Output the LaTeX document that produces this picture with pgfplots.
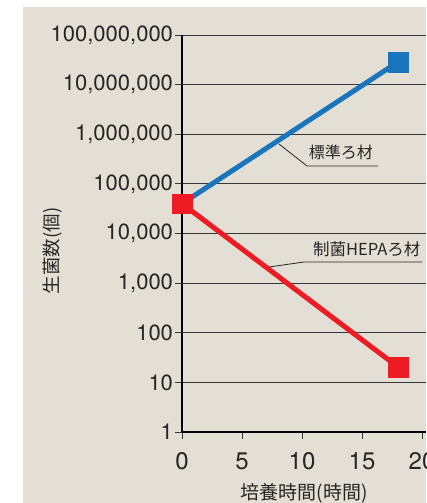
\documentclass[border=0pt]{standalone}
\usepackage{fontspec}
\usepackage{pgfplots}
\pgfplotsset{compat=1.18}
\setmainfont{TeX Gyre Heros}
\newfontfamily\jp{Noto Sans CJK JP}
\definecolor{bg}{RGB}{228,223,212}
\definecolor{blueL}{RGB}{27,117,188}
\definecolor{redL}{RGB}{237,28,36}
\definecolor{gridc}{RGB}{55,55,55}
\begin{document}
\begin{tikzpicture}[x=1pt,y=1pt]
\useasboundingbox (0,0) rectangle (426,503);
\clip (0,0) rectangle (426,503);
\fill[white] (0,0) rectangle (426,503);
\fill[bg] (23,0) rectangle (426,496);
\begin{axis}[
  at={(182pt,71pt)}, anchor=south west,
  scale only axis, width=244pt, height=397pt,
  xmin=0, xmax=20.333, ymode=log, ymin=1, ymax=1e8,
  clip=false,
  axis x line*=bottom, axis y line*=left,
  axis line style={black, line width=1.1pt},
  xtick={0,5,10,15,20},
  xticklabels={0,5,10,15,20},
  ytick={1,10,100,1000,10000,100000,1000000,10000000,100000000},
  yticklabels={1,10,100,{1,000},{10,000},{100,000},{1,000,000},{10,000,000},{100,000,000}},
  yminorticks=false, xminorticks=false,
  ymajorgrids,
  major grid style={gridc, line width=0.9pt},
  tick align=outside,
  major tick length=7pt,
  tick style={gridc, line width=0.9pt},
  /pgf/number format/assume math mode=true,
  yticklabel style={font=\fontsize{22}{22}\selectfont, text=black!85, xshift=1.5pt},
  xticklabel style={font=\fontsize{24}{24}\selectfont, text=black!85, yshift=-10pt},
  xlabel={\jp 培養時間(時間)},
  ylabel={\jp 生菌数(個)},
  every axis x label/.style={at={(axis description cs:0.5,-0.154)}, anchor=center, font=\fontsize{19}{19}\selectfont, text=black!85},
  every axis y label/.style={at={(axis description cs:-0.529,0.456)}, anchor=center, rotate=90, font=\fontsize{18.5}{18.5}\selectfont, text=black!85},
]
\addplot[blueL, line width=5pt, mark=square*, mark size=9.9pt, mark options={line width=0.1pt}]
  coordinates {(0,4.0e4) (18,2.86e7)};
\addplot[redL, line width=5pt, mark=square*, mark size=9.9pt, mark options={line width=0.1pt}]
  coordinates {(0,4.0e4) (18,20.4)};
\draw[black!85, line width=0.8pt] (rel axis cs:0.3975,0.7254) -- (rel axis cs:0.5123,0.6700) -- (rel axis cs:0.8033,0.6700);
\node[font=\jp\fontsize{16}{16}\selectfont, text=black!85] at (rel axis cs:0.6516,0.7040) {標準ろ材};
\draw[black!85, line width=0.8pt] (rel axis cs:0.3566,0.4156) -- (rel axis cs:0.5,0.4282) -- (rel axis cs:0.9836,0.4282);
\node[font=\jp\fontsize{16.5}{16.5}\selectfont, text=black!85] at (rel axis cs:0.757,0.4597) {制菌HEPAろ材};
\end{axis}
\end{tikzpicture}
\end{document}
